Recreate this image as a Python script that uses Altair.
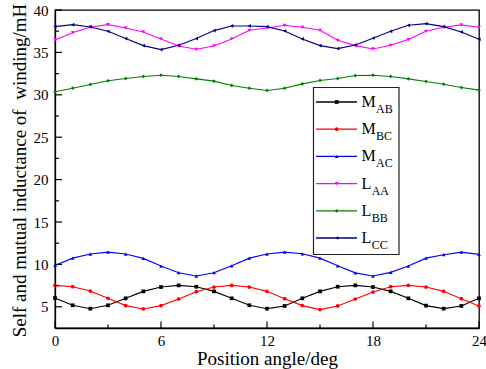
import altair as alt
import pandas as pd

angle = list(range(25))
M_AB = [6.04, 5.18, 4.78, 5.18, 6.00, 6.82, 7.33, 7.53, 7.37, 6.82, 6.00, 5.18, 4.78,
        5.10, 6.00, 6.82, 7.37, 7.53, 7.33, 6.82, 6.00, 5.14, 4.78, 5.10, 6.00]
M_BC = [7.53, 7.37, 6.86, 6.00, 5.14, 4.75, 5.14, 5.92, 6.78, 7.33, 7.53, 7.33, 6.82,
        5.96, 5.14, 4.67, 5.10, 5.92, 6.74, 7.37, 7.53, 7.33, 6.82, 5.96, 5.10]
M_AC = [9.88, 10.74, 11.22, 11.45, 11.22, 10.71, 9.80, 9.02, 8.63, 9.02, 9.84, 10.74, 11.22,
        11.45, 11.25, 10.74, 9.84, 9.00, 8.63, 9.06, 9.80, 10.74, 11.14, 11.45, 11.18]
L_AA = [36.47, 37.33, 38.00, 38.27, 37.88, 37.41, 36.59, 35.76, 35.37, 35.76, 36.59, 37.61, 37.88,
        38.20, 37.96, 37.61, 36.43, 35.80, 35.41, 35.84, 36.51, 37.49, 37.96, 38.24, 37.96]
L_BB = [30.35, 30.78, 31.22, 31.65, 31.92, 32.16, 32.31, 32.16, 31.88, 31.61, 31.10, 30.78, 30.51,
        30.78, 31.29, 31.69, 31.92, 32.27, 32.31, 32.16, 31.88, 31.57, 31.25, 30.86, 30.55]
L_CC = [38.04, 38.27, 38.00, 37.49, 36.63, 35.80, 35.33, 35.84, 36.63, 37.57, 38.12, 38.12, 38.04,
        37.53, 36.59, 35.80, 35.45, 35.88, 36.67, 37.49, 38.20, 38.39, 38.04, 37.41, 36.55]

series_names = ["M_AB", "M_BC", "M_AC", "L_AA", "L_BB", "L_CC"]
series_main = ["M", "M", "M", "L", "L", "L"]
series_sub = ["AB", "BC", "AC", "AA", "BB", "CC"]
series_colors = ["#000000", "#FF0000", "#0000FF", "#FF00FF", "#008000", "#000080"]
series_shapes = ["square", "circle", "triangle-up", "triangle-down", "diamond", "triangle-left"]
series_values = [M_AB, M_BC, M_AC, L_AA, L_BB, L_CC]

x_major = [0, 6, 12, 18, 24]
x_minor = [3, 9, 15, 21]
y_major = [5, 10, 15, 20, 25, 30, 35, 40]
y_minor = [7.5, 12.5, 17.5, 22.5, 27.5, 32.5, 37.5]

FONT = "Liberation Serif"

rows = []
for name, vals in zip(series_names, series_values):
    for a, v in zip(angle, vals):
        rows.append({"x": a, "y": v, "series": name})
df = pd.DataFrame(rows)

leg = pd.DataFrame({"series": series_names, "row": list(range(6)),
                    "main": series_main, "sub": series_sub})

xaxis = alt.Axis(values=x_major, title="Position angle/deg", grid=False, ticks=False,
                 labelPadding=5, labelFlush=False, labelOverlap=False,
                 titleY=36, titleBaseline="alphabetic")
yaxis = alt.Axis(values=y_major, title="Self and mutual inductance of\u00a0 winding/mH", grid=False,
                 ticks=False, labelPadding=7, labelFlush=False, labelOverlap=False,
                 titleX=-30, titleY=160, titleBaseline="alphabetic", titleAlign="center")
xscale = alt.Scale(domain=[0, 24], nice=False, zero=False)
yscale = alt.Scale(domain=[2.5, 40], nice=False, zero=False)


def X(field="x"):
    return alt.X(f"{field}:Q", scale=xscale, axis=xaxis)


def Y(field="y"):
    return alt.Y(f"{field}:Q", scale=yscale, axis=yaxis)


color = alt.Color("series:N", scale=alt.Scale(domain=series_names, range=series_colors), legend=None)
shape = alt.Shape("series:N", scale=alt.Scale(domain=series_names, range=series_shapes), legend=None)

lines = alt.Chart(df).mark_line(strokeWidth=1.1).encode(x=X(), y=Y(), color=color, detail="series:N")
points = alt.Chart(df).mark_point(filled=True, size=14, opacity=1).encode(
    x=X(), y=Y(), color=color, shape=shape)

xt_major = alt.Chart(pd.DataFrame({"x": x_major})).mark_rule(color="black", strokeWidth=1.2).encode(
    x=X(), y=alt.value(318), y2=alt.value(311.5))
xt_minor = alt.Chart(pd.DataFrame({"x": x_minor})).mark_rule(color="black", strokeWidth=1.2).encode(
    x=X(), y=alt.value(318), y2=alt.value(314.5))
yt_major = alt.Chart(pd.DataFrame({"y": y_major})).mark_rule(color="black", strokeWidth=1.2).encode(
    y=Y(), x=alt.value(0), x2=alt.value(7))
yt_minor = alt.Chart(pd.DataFrame({"y": y_minor})).mark_rule(color="black", strokeWidth=1.2).encode(
    y=Y(), x=alt.value(0), x2=alt.value(4))

main = alt.layer(lines, points, xt_major, xt_minor, yt_major, yt_minor)

ly = alt.Y("row:Q", scale=alt.Scale(domain=[0, 5], range=[92, 228]), axis=None)

box = alt.Chart(pd.DataFrame({"a": [0]})).mark_rect(
    fill="white", stroke="#222222", strokeWidth=1.2).encode(
    x=alt.value(258.5), x2=alt.value(344), y=alt.value(77.5), y2=alt.value(244.5))
leg_line = alt.Chart(leg).mark_rule(strokeWidth=1.3).encode(
    x=alt.value(261), x2=alt.value(302), y=ly, color=color)
leg_pt = alt.Chart(leg).mark_point(filled=True, size=14, opacity=1).encode(
    x=alt.value(281.7), y=ly, color=color, shape=shape)
leg_main = alt.Chart(leg).mark_text(font=FONT, fontSize=16, align="left", baseline="alphabetic",
                                    dy=5, color="black").encode(
    x=alt.value(306.5), y=ly, text="main:N")
leg_sub_m = alt.Chart(leg).transform_filter(alt.datum.main == "M").mark_text(
    font=FONT, fontSize=12, align="left", baseline="alphabetic", dy=11, color="black").encode(
    x=alt.value(321), y=ly, text="sub:N")
leg_sub_l = alt.Chart(leg).transform_filter(alt.datum.main == "L").mark_text(
    font=FONT, fontSize=12, align="left", baseline="alphabetic", dy=11, color="black").encode(
    x=alt.value(316.7), y=ly, text="sub:N")

legend = alt.layer(box, leg_line, leg_pt, leg_main, leg_sub_m, leg_sub_l)

chart = alt.layer(main, legend).resolve_scale(y="independent").properties(
    width=424, height=318,
    autosize=alt.AutoSizeParams(type="none"),
    padding={"left": 55, "top": 10, "right": 7, "bottom": 41},
).configure_view(stroke="black", strokeWidth=1.3).configure_axis(
    domainColor="black", domainWidth=1.3,
    labelFont=FONT, labelFontSize=15, labelColor="black",
    titleFont=FONT, titleFontSize=19, titleColor="black", titleFontWeight="normal",
)

chart.save("out.html", embed_options={"renderer": "svg", "actions": False})
